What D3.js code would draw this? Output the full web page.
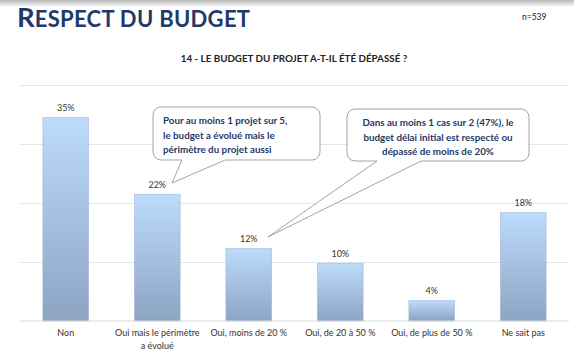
<!DOCTYPE html>
<html><head><meta charset="utf-8">
<script src="https://cdn.jsdelivr.net/npm/d3@7"></script>
<style>
html,body{margin:0;padding:0;background:#fff;}
svg{display:block;}
</style></head>
<body>
<svg id="chart" width="574" height="355"></svg>
<script>
const categories = ["Non", "Oui mais le périmètre|a évolué", "Oui, moins de 20 %", "Oui, de 20 à 50 %", "Oui, de plus de 50 %", "Ne sait pas"];
const values = [34.5, 21.5, 12.3, 9.8, 3.5, 18.4];
const valueLabels = ["35%", "22%", "12%", "10%", "4%", "18%"];
const gridTicks = [0, 10, 20, 30, 40];
const callout1 = ["Pour au moins 1 projet sur 5,", "le budget a évolué mais le", "périmètre du projet aussi"];
const callout2 = ["Dans au moins 1 cas sur 2 (47%), le", "budget délai initial est respecté ou", "dépassé de moins de 20%"];

(function(){
const svg = d3.select("#chart");
const font = "Lato, 'Open Sans', sans-serif";
const defs = svg.append("defs");
const sh = defs.append("linearGradient").attr("id","shadow").attr("x1",0).attr("y1",0).attr("x2",0).attr("y2",1);
sh.append("stop").attr("offset","0%").attr("stop-color","#b8b8b8");
sh.append("stop").attr("offset","100%").attr("stop-color","#ffffff");
const bg = defs.append("linearGradient").attr("id","barg").attr("x1",0).attr("y1",0).attr("x2",0).attr("y2",1);
bg.append("stop").attr("offset","0%").attr("stop-color","#bddbfb");
bg.append("stop").attr("offset","100%").attr("stop-color","#8da4c3");

svg.append("rect").attr("x",0).attr("y",0).attr("width",574).attr("height",7).attr("fill","url(#shadow)");

// Title
const title = svg.append("text").attr("x",17).attr("y",27).attr("fill","#1f3a68")
  .attr("font-family",font).attr("font-weight","bold");
title.append("tspan").attr("font-size",27.5).text("R");
title.append("tspan").attr("font-size",22).attr("letter-spacing",0.3).text("ESPECT DU BUDGET");

svg.append("text").attr("x",522).attr("y",20).attr("font-family",font).attr("font-size",8.5).attr("fill","#222").text("n=539");
svg.append("text").attr("x",294).attr("y",62).attr("text-anchor","middle").attr("font-family",font)
  .attr("font-size",9.8).attr("font-weight","bold").attr("fill","#222").text("14 - LE BUDGET DU PROJET A-T-IL ÉTÉ DÉPASSÉ ?");

const pl = 20, pr = 569, pt = 85, pb = 321;
const x = d3.scaleBand().domain(categories).range([pl, pr]).paddingInner(0.5).paddingOuter(0.25);
const y = d3.scaleLinear().domain([0, 40]).range([pb, pt]);

// grid
const grid = svg.append("g").attr("transform",`translate(${pl},0)`)
  .call(d3.axisLeft(y).tickValues(gridTicks.slice(1)).tickSize(-(pr-pl)).tickFormat(""));
grid.select(".domain").remove();
grid.selectAll("line").attr("stroke","#e3e6ea").attr("stroke-width",1);

// bars
svg.selectAll("rect.bar").data(values).enter().append("rect").attr("class","bar")
  .attr("x",(d,i)=>x(categories[i])).attr("width",x.bandwidth())
  .attr("y",d=>y(d)).attr("height",d=>y(0)-y(d))
  .attr("fill","url(#barg)").attr("stroke","#9fb4cf").attr("stroke-width",0.5);

// value labels
svg.selectAll("text.val").data(values).enter().append("text").attr("class","val")
  .attr("x",(d,i)=>x(categories[i])+x.bandwidth()/2).attr("y",d=>y(d)-6)
  .attr("text-anchor","middle").attr("font-family",font).attr("font-size",9).attr("fill","#333")
  .text((d,i)=>valueLabels[i]);

// x axis
const xa = svg.append("g").attr("transform",`translate(0,${pb})`)
  .call(d3.axisBottom(x).tickSize(0).tickPadding(0));
xa.select(".domain").attr("stroke","#d4d8dc").attr("d",`M${pl},0H${pr}`);
xa.selectAll(".tick text").each(function(d){
  const t = d3.select(this);
  t.text(null).attr("font-family",font).attr("font-size",9).attr("fill","#333").attr("y",0).attr("dy",null);
  d.split("|").forEach((line,i)=>{
    t.append("tspan").attr("x",0).attr("y",15 + i*13).text(line);
  });
});

// callouts
function callout(bx, by, bw, bh, tail, lines, anchor) {
  const r = 8;
  const [t1, t2, px, py] = tail;
  const p = d3.path();
  p.moveTo(bx+r, by);
  p.lineTo(bx+bw-r, by); p.arcTo(bx+bw, by, bx+bw, by+r, r);
  p.lineTo(bx+bw, by+bh-r); p.arcTo(bx+bw, by+bh, bx+bw-r, by+bh, r);
  p.lineTo(t2, by+bh); p.lineTo(px, py); p.lineTo(t1, by+bh);
  p.lineTo(bx+r, by+bh); p.arcTo(bx, by+bh, bx, by+bh-r, r);
  p.lineTo(bx, by+r); p.arcTo(bx, by, bx+r, by, r);
  p.closePath();
  svg.append("path").attr("d",p.toString()).attr("fill","#fff").attr("stroke","#9a9a9a").attr("stroke-width",0.9);
  const tx = anchor === "middle" ? bx + bw/2 : bx + 10;
  const t = svg.append("text").attr("font-family",font).attr("font-size",9.8).attr("font-weight","bold")
    .attr("fill","#1f3a68").attr("text-anchor",anchor==="middle"?"middle":"start");
  lines.forEach((l,i)=>t.append("tspan").attr("x",tx).attr("y",by+17+i*14.5).text(l));
}
callout(153, 107, 167, 53, [182, 225, 172, 183], callout1, "start");
callout(347, 109, 182, 52, [377, 421, 268, 237], callout2, "middle");
})();
</script>
</body></html>
